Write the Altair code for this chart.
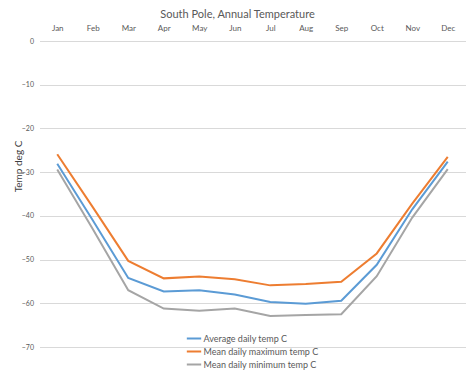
import altair as alt
import pandas as pd

months = ["Jan", "Feb", "Mar", "Apr", "May", "Jun", "Jul", "Aug", "Sep", "Oct", "Nov", "Dec"]
avg_temp = [-28.1, -41.0, -54.2, -57.3, -57.0, -58.0, -59.7, -60.1, -59.4, -51.2, -38.5, -27.6]
max_temp = [-25.9, -38.0, -50.3, -54.3, -53.9, -54.5, -55.9, -55.6, -55.1, -48.6, -37.2, -26.5]
min_temp = [-29.4, -43.0, -57.0, -61.2, -61.7, -61.2, -62.9, -62.7, -62.5, -53.8, -40.4, -29.3]
series_names = ["Average daily temp C", "Mean daily maximum temp C", "Mean daily minimum temp C"]
series_colors = ["#5B9BD5", "#ED7D31", "#A5A5A5"]

rows = []
for name, vals in zip(series_names, [avg_temp, max_temp, min_temp]):
    for m, v in zip(months, vals):
        rows.append({"month": m, "temp": v, "series": name})
df = pd.DataFrame(rows)

FONT = "Lato"
GREY = "#595959"

chart = alt.Chart(df).mark_line(strokeWidth=2).encode(
    x=alt.X("month:N", sort=months, title=None,
            axis=alt.Axis(orient="top", labelAngle=0, domain=False, ticks=False,
                          labelFontSize=8, labelColor=GREY, labelPadding=9, labelFont=FONT)),
    y=alt.Y("temp:Q", scale=alt.Scale(domain=[-70, 0], nice=False), title="Temp deg C",
            axis=alt.Axis(values=[0, -10, -20, -30, -40, -50, -60, -70], domain=False, ticks=False,
                          labelFontSize=7, labelColor=GREY, labelPadding=6, labelFont=FONT,
                          gridColor="#D9D9D9", gridWidth=1,
                          titleFontSize=10, titleColor="#404040", titleFontWeight="normal",
                          titleFont=FONT, titleX=-21, titleY=125, titleBaseline="middle",
                          titleAngle=270, titleAlign="center")),
    color=alt.Color("series:N", sort=series_names,
                    scale=alt.Scale(domain=series_names, range=series_colors),
                    legend=alt.Legend(title=None, orient="none", legendX=147, legendY=290,
                                      symbolType="M-1.15,0H1.15", symbolSize=156, symbolStrokeWidth=2,
                                      labelFontSize=9, labelColor=GREY, labelFont=FONT,
                                      labelOffset=2, rowPadding=0, padding=0)),
).properties(
    width=426, height=306,
    title=alt.TitleParams("South Pole, Annual Temperature", fontSize=11, color=GREY,
                          font=FONT, fontWeight="normal", anchor="middle", dx=-15, offset=4),
    autosize=alt.AutoSizeParams(type="none"),
    padding={"left": 31.5, "top": 33, "right": 0, "bottom": 24},
).configure_view(stroke=None)

chart.save("out.html", embed_options={"renderer": "svg", "actions": False})
